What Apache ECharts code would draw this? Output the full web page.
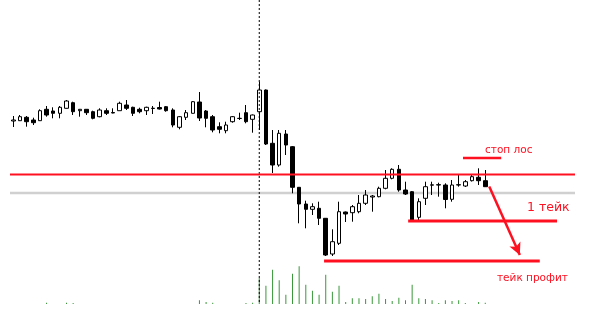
<!DOCTYPE html>
<html><head><meta charset="utf-8">
<script src="https://cdn.jsdelivr.net/npm/echarts@6/dist/echarts.min.js"></script>
<style>html,body{margin:0;padding:0;background:#fff}#c{width:592px;height:313px}</style>
</head><body><div id="c"></div>
<script>
// candle values (price units)
const opens  = [192,192.3,195.7,193,192.3,203.7,202,199.7,204.7,210.3,202.3,203.7,201.3,196.3,202.3,200,202.3,208,205.7,203.7,202.3,204.5,205.5,206.3,203,185.7,195.7,199.7,211,202,196.3,186.3,182.3,191.3,194.5,200.3,193.7,201.3,223,169.7,148,179,166.3,125.7,109,103.7,104.7,94.7,59,69.7,101,100.3,101.3,109.7,116,116.3,124.7,134.7,143.7,123,121.3,95.7,114.7,127.8,128.3,128,113.7,128,127,132.3,135.7,132.3];
const closes = [193,196.3,191.3,190.3,202.3,198,199.7,205.7,212,201.3,203.7,200.3,194.7,203,199.7,200.5,209.7,204.7,199.7,201.3,205.7,204.8,204,202.3,188,196.3,200.3,211.3,195,194.7,183,183.7,188,196.3,194.7,191.3,198,223,169,148,179.7,168,125.7,109,103.7,106.3,94.7,58,71.3,101.3,99,106.3,109.7,118,117,124.7,134.7,143.7,123,119,93,111.3,126.3,128.2,128,113.5,128,128.3,131.3,136.3,132.3,126.3];
const lows   = [186,192,186.3,188,192,196.3,194.7,194.7,204.5,198,196.3,198,193.7,195.7,198,199.7,202.3,203,197,199.7,198,199,203.5,201.3,185.7,183.7,193,199.5,192,185.7,180.7,179.7,179.7,190.3,193,189.7,180.3,183,168,140,146.3,158,119.7,89.7,84.7,98,88,57,57,68,91,91.3,99.7,108,101.3,115.7,123.7,133.7,121.3,118,92.3,93,108,118,116.3,104.7,111.3,126.3,126,131.5,128,126];
const highs  = [197,198,197,195.3,203.7,207,205.7,207,213,211.3,204,204,202.3,204.7,204.7,204.7,211.3,213,206.3,205.3,206.3,207,211.3,207,204.7,197,203,212,221,203,198,190.7,191.3,197,200.3,208,198.5,231.3,223.5,183,183,183,167,126,112.3,109.7,111.3,95,83.7,111.3,101.5,108,118,123,118,126.3,143,144.7,148,131.3,122,114.7,131.3,131.3,130.3,129.7,133,138,133,138,144.7,143];
const volumes = [0,0,0,0,0,13,0,0,13,10,0,0,0,0,0,0,0,0,0,0,0,0,0,0,0,0,0,0,37,20,13,0,0,0,0,10,13,260,183,343,237,93,303,377,193,133,93,293,123,183,20,57,57,50,77,103,50,30,63,37,193,57,50,37,10,37,30,37,10,0,20,13];

const slotCount = 85;               // bar slots across the chart (incl. empty right margin)
const categories = Array.from({length: slotCount}, (_, i) => String(i + 1));
const priceTop = 313, volumeBase = 9; // price extents for the vertical marker
const resistanceLevel = 138.5;      // thin red line
const grayLevel = 120;              // gray line
const eventBar = 37;                // dotted vertical
const stopLoss   = [155, 67.65, 73.4];   // level, from slot, to slot
const take1      = [92, 59.4, 81.8];
const takeProfit = [52, 46.75, 79.2];
const arrowFrom = [71.6, 126.5];
const arrowTo   = [76.2, 58];

const candles = opens.map((o, i) => [o, closes[i], lows[i], highs[i]]);
const RED = '#ff1020';
const FONT = 'DejaVu Sans, Verdana, sans-serif';

function seg(level, from, to, color, width, z, type) {
  return {
    type: 'line', xAxisIndex: 1, yAxisIndex: 0, silent: true, symbol: 'none', z: z,
    lineStyle: {color: color, width: width, type: type || 'solid'},
    data: [[from, level], [to, level]], animation: false
  };
}

const chart = echarts.init(document.getElementById('c'), null, {renderer: 'canvas'});
chart.setOption({
  animation: false,
  backgroundColor: '#fff',
  grid: [
    {left: 10, width: 565, top: 0, height: 313},
    {left: 10, width: 565, top: 264, height: 40}
  ],
  xAxis: [
    {type: 'category', gridIndex: 0, data: categories, show: false},
    {type: 'value', gridIndex: 0, min: -0.5, max: slotCount - 0.5, show: false},
    {type: 'category', gridIndex: 1, data: categories, show: false}
  ],
  yAxis: [
    {type: 'value', gridIndex: 0, min: 0, max: 313, show: false},
    {type: 'value', gridIndex: 1, min: 0, max: 400, show: false}
  ],
  series: [
    seg(grayLevel, -0.5, slotCount - 0.5, '#d0d0d0', 2.5, 1),
    {
      type: 'candlestick', xAxisIndex: 0, yAxisIndex: 0, data: candles, barWidth: 4, z: 2,
      itemStyle: {color: '#ffffff', color0: '#000000', borderColor: '#000000', borderColor0: '#000000', borderWidth: 1}
    },
    {
      type: 'bar', xAxisIndex: 2, yAxisIndex: 1, data: volumes, barWidth: 1,
      itemStyle: {color: '#3a983a'}, z: 2
    },
    {
      type: 'line', xAxisIndex: 1, yAxisIndex: 0, silent: true, symbol: 'none', z: 3,
      lineStyle: {color: '#000', width: 1, type: [2, 2]},
      data: [[eventBar, priceTop], [eventBar, volumeBase]]
    },
    seg(resistanceLevel, -0.5, slotCount - 0.5, RED, 2, 4),
    seg(stopLoss[0], stopLoss[1], stopLoss[2], RED, 2.5, 4),
    seg(take1[0], take1[1], take1[2], RED, 3, 4),
    seg(takeProfit[0], takeProfit[1], takeProfit[2], RED, 3, 4),
    {
      type: 'line', xAxisIndex: 1, yAxisIndex: 0, data: [], z: 5, silent: true,
      markLine: {
        silent: true, symbol: ['none', 'arrow'], symbolSize: [9, 12], label: {show: false},
        lineStyle: {color: RED, width: 2.5, type: 'solid'},
        data: [[{coord: arrowFrom}, {coord: arrowTo}]]
      }
    }
  ],
  graphic: [
    {type: 'text', left: 485, top: 145, silent: true,
      style: {text: 'стоп лос', fill: RED, fontSize: 10.5, fontFamily: FONT}},
    {type: 'text', left: 527, top: 201, silent: true,
      style: {text: '1 тейк', fill: RED, fontSize: 12.5, fontFamily: FONT}},
    {type: 'text', left: 497, top: 273, silent: true,
      style: {text: 'тейк профит', fill: RED, fontSize: 10.5, fontFamily: FONT}}
  ]
});
</script>
</body></html>
